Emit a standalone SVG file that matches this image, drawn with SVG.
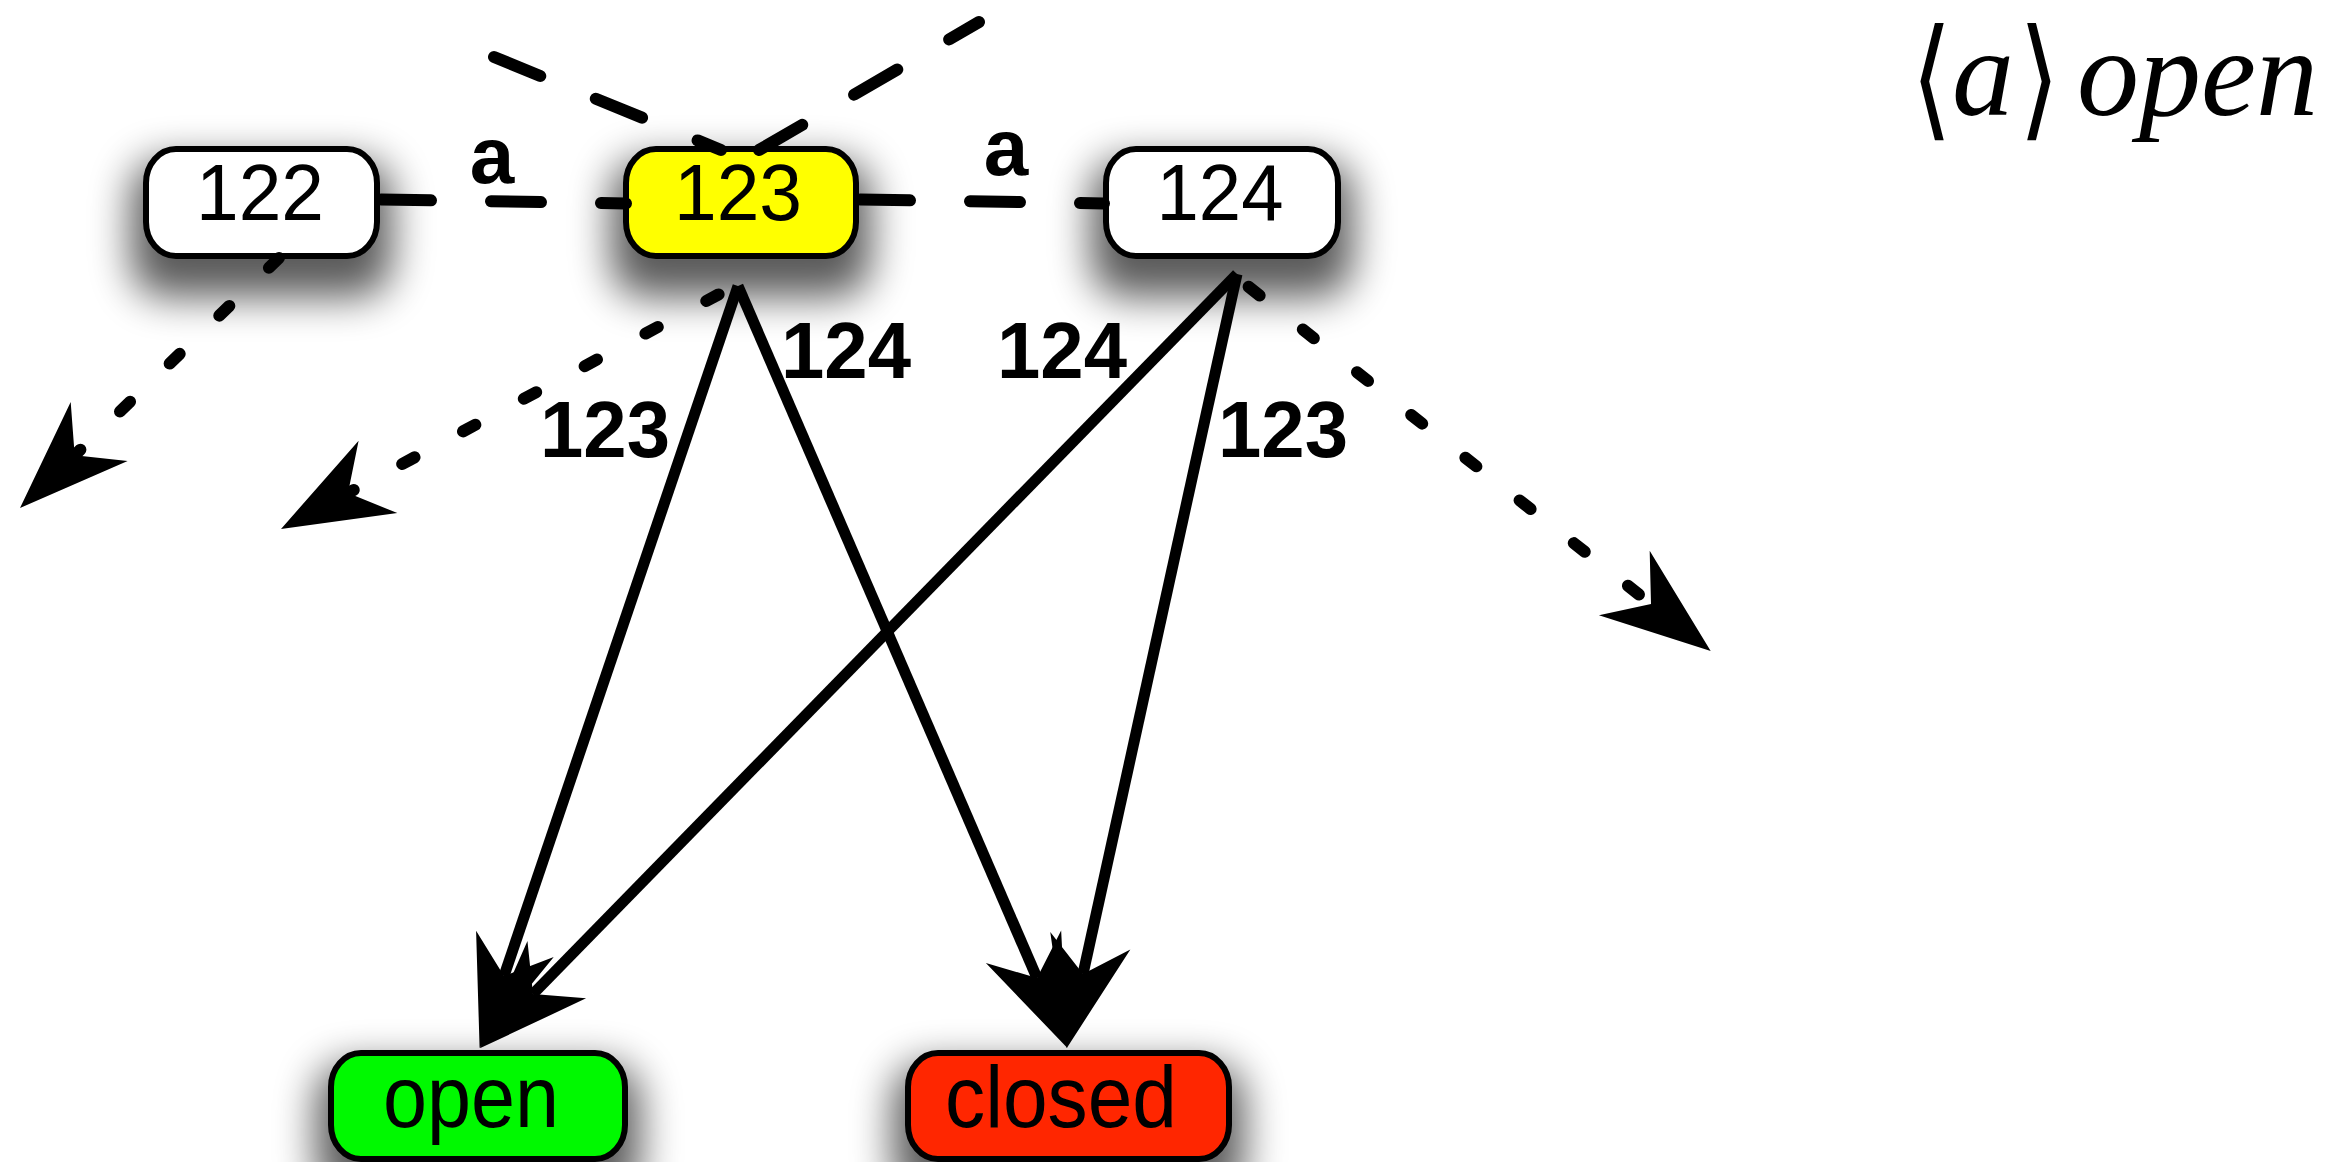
<svg xmlns="http://www.w3.org/2000/svg" width="2347" height="1162" viewBox="0 0 2347 1162">
<defs>
<filter id="sh" x="-60%" y="-100%" width="220%" height="320%">
<feMorphology in="SourceAlpha" operator="dilate" radius="12"/>
<feGaussianBlur stdDeviation="20"/>
<feOffset dy="26" result="b"/>
<feComponentTransfer><feFuncA type="linear" slope="0.65"/></feComponentTransfer>
<feMerge><feMergeNode/><feMergeNode in="SourceGraphic"/></feMerge>
</filter>
<marker id="ah" markerUnits="userSpaceOnUse" markerWidth="112" markerHeight="84" refX="34" refY="41" orient="auto" overflow="visible">
<path d="M0,0 L110,41 L0,82 L34,41 Z" fill="#000"/>
</marker>
<style>
.box{stroke:#000;stroke-width:6}
.nt{font-family:"Liberation Sans",Arial,sans-serif;font-size:80px;fill:#000;text-anchor:middle}
.bt{font-family:"Liberation Sans",Arial,sans-serif;font-size:80px;font-weight:bold;fill:#000;text-anchor:middle}
.solid{fill:none;stroke:#000;stroke-width:11}
.dash{fill:none;stroke:#000;stroke-width:12;stroke-linecap:round;stroke-dasharray:50 60}
.dot{fill:none;stroke:#000;stroke-width:12;stroke-linecap:round;stroke-dasharray:14 55}
.br{font-family:"DejaVu Sans",sans-serif;font-size:124px;fill:#000}
</style>
</defs>
<rect width="2347" height="1162" fill="#fff"/>
<g id="node122" filter="url(#sh)">
<rect class="box" x="146" y="149" width="231" height="107" rx="30" ry="34" fill="#fff"/>
<text class="nt" x="260" y="220" textLength="128" lengthAdjust="spacingAndGlyphs">122</text>
</g>
<g id="node123" filter="url(#sh)">
<rect class="box" x="626" y="149" width="230" height="107" rx="30" ry="34" fill="#ffff00"/>
<text class="nt" x="738" y="220" textLength="128" lengthAdjust="spacingAndGlyphs">123</text>
</g>
<g id="node124" filter="url(#sh)">
<rect class="box" x="1106" y="149" width="232" height="107" rx="30" ry="34" fill="#fff"/>
<text class="nt" x="1220" y="220" textLength="127" lengthAdjust="spacingAndGlyphs">124</text>
</g>
<g id="nodeOpen" filter="url(#sh)">
<rect class="box" x="331" y="1053" width="294" height="106" rx="30" ry="34" fill="#00f900"/>
<text class="nt" x="471" y="1127" style="font-size:88px" textLength="176" lengthAdjust="spacingAndGlyphs">open</text>
</g>
<g id="nodeClosed" filter="url(#sh)">
<rect class="box" x="908" y="1053" width="321" height="106" rx="30" ry="34" fill="#ff2600"/>
<text class="nt" x="1061" y="1127" style="font-size:88px" textLength="232" lengthAdjust="spacingAndGlyphs">closed</text>
</g>
<g id="connectors">
<path class="dash" d="M381,199.5 L626,203.5"/>
<path class="dash" d="M860,199.5 L1104,203.5"/>
<path class="dash" d="M494,57 L721,150"/>
<path class="dash" d="M759,150 L979,22"/>
<path class="dot" d="M279,258 L74.7,455.2" marker-end="url(#ah)"/>
<path class="dot" d="M738,284 L348,493" style="stroke-dashoffset:47" marker-end="url(#ah)"/>
<path class="dot" d="M1240,280 L1651,604" style="stroke-dashoffset:58" marker-end="url(#ah)"/>
<path class="solid" d="M738,286 L504,976" marker-end="url(#ah)"/>
<path class="solid" d="M1237,274 L533,994" marker-end="url(#ah)"/>
<path class="solid" d="M738,286 L1037,978" marker-end="url(#ah)"/>
<path class="solid" d="M1237,274 L1083,974" marker-end="url(#ah)"/>
</g>
<g id="labels">
<text class="bt" x="492" y="183">a</text>
<text class="bt" x="1006" y="175">a</text>
<text class="bt" x="846" y="378" textLength="130" lengthAdjust="spacingAndGlyphs">124</text>
<text class="bt" x="1062" y="378" textLength="130" lengthAdjust="spacingAndGlyphs">124</text>
<text class="bt" x="605" y="457" textLength="130" lengthAdjust="spacingAndGlyphs">123</text>
<text class="bt" x="1283" y="457" textLength="130" lengthAdjust="spacingAndGlyphs">123</text>
</g>
<g id="formula">
<text class="br" x="1908" y="115" transform="translate(1928,86) scale(0.85,1.06) translate(-1928,-79.7)">⟨</text>
<text x="1952" y="115" font-family="Liberation Serif" font-style="italic" font-size="124">a</text>
<text class="br" x="2016" y="115" transform="translate(2035,86) scale(0.85,1.06) translate(-2035,-79.7)">⟩</text>
<text x="2077" y="115" font-family="Liberation Serif" font-style="italic" font-size="124">open</text>
</g>
</svg>
